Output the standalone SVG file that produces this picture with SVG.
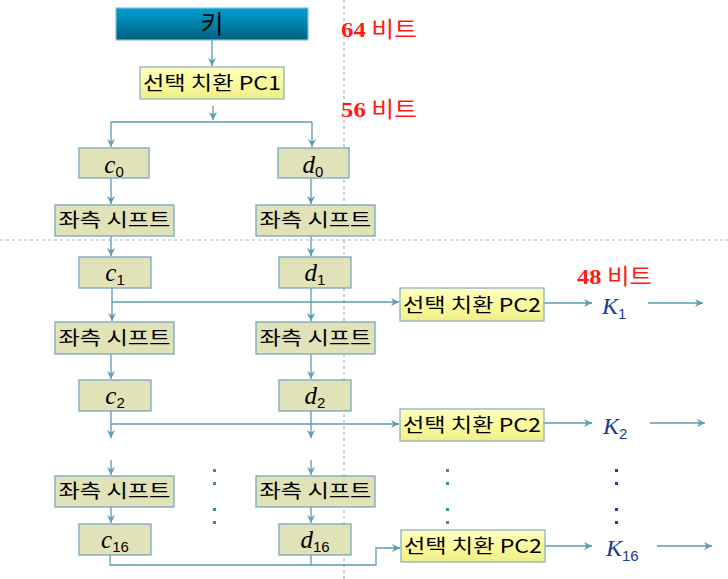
<svg xmlns="http://www.w3.org/2000/svg" width="728" height="579" viewBox="0 0 728 579">
<style>
.guide{stroke:#b0b0b0;stroke-width:1.2;stroke-dasharray:3,3;fill:none}
.con{stroke:#5b9bb7;stroke-width:1.3;fill:none}
.arr{marker-end:url(#ah)}
.box{fill:#e2e2b8;stroke:#7aa6bd;stroke-width:1.3}
.pc{fill:url(#yel);stroke:#8fb0c0;stroke-width:1.3}
.kr{font-family:"Noto Sans CJK KR","Noto Sans",sans-serif;fill:#000}
.var{font-family:"Liberation Serif",serif;font-style:italic;font-size:25px;fill:#000}
.sub{font-family:"Liberation Sans",sans-serif;font-style:normal;font-size:15px}
.kv{font-family:"Liberation Serif",serif;font-style:italic;font-size:24px;fill:#1f3a93}
.red{fill:#ff1a1a;font-size:22px}
.num{font-family:"Liberation Serif",serif;font-weight:bold}
.bit{font-family:"Noto Sans CJK KR",sans-serif;font-weight:normal}
.dot{fill:#3a8aa8}
.dotk{fill:#1f3a93}
</style>
<defs>
<linearGradient id="teal" x1="0" y1="0" x2="0" y2="1">
<stop offset="0" stop-color="#00a0d2"/>
<stop offset="1" stop-color="#005f80"/>
</linearGradient>
<linearGradient id="yel" x1="0" y1="0" x2="0" y2="1">
<stop offset="0" stop-color="#ffffc2"/>
<stop offset="0.5" stop-color="#fafa9c"/>
<stop offset="1" stop-color="#eeee88"/>
</linearGradient>
<marker id="ah" markerUnits="userSpaceOnUse" markerWidth="10" markerHeight="10" refX="8" refY="4" orient="auto">
<path d="M0,0 L8,4 L0,8 L2.5,4 z" fill="#5b9bb7"/>
</marker>
</defs>

<g id="guides">
<line class="guide" x1="0" y1="240" x2="728" y2="240"/>
<line class="guide" x1="344" y1="0" x2="344" y2="579"/>
</g>

<g id="connectors">
<path class="con arr" d="M212,40 V66"/>
<path class="con arr" d="M213,106 V120"/>
<path class="con" d="M111,122 H312"/>
<path class="con arr" d="M111,122 V147"/>
<path class="con arr" d="M312,122 V147"/>
<path class="con arr" d="M111,178 V204"/>
<path class="con arr" d="M311,178 V204"/>
<path class="con arr" d="M111,236 V256"/>
<path class="con arr" d="M311,236 V256"/>
<path class="con arr" d="M112,288 V321"/>
<path class="con arr" d="M112,302 H399"/>
<path class="con arr" d="M311,288 V321"/>
<path class="con arr" d="M111,354 V379"/>
<path class="con arr" d="M311,354 V379"/>
<path class="con arr" d="M111,411 V438"/>
<path class="con arr" d="M111,424 H399"/>
<path class="con arr" d="M311,411 V438"/>
<path class="con arr" d="M111,460 V475"/>
<path class="con arr" d="M311,460 V475"/>
<path class="con arr" d="M111,507 V523"/>
<path class="con arr" d="M311,507 V523"/>
<path class="con arr" d="M110,555 V565 H376 V548 H400"/>
<path class="con" d="M311,555 V565"/>
<path class="con arr" d="M544,303 H592"/>
<path class="con arr" d="M648,303 H703"/>
<path class="con arr" d="M544,423 H592"/>
<path class="con arr" d="M650,423 H705"/>
<path class="con arr" d="M545,546 H592"/>
<path class="con arr" d="M657,546 H712"/>
</g>

<g id="key">
<rect x="116" y="8" width="192" height="32" fill="url(#teal)" stroke="#7fc0dc" stroke-width="1.2"/>
<text class="kr" x="212" y="33" font-size="25" text-anchor="middle">키</text>
</g>

<g id="pc1">
<rect class="pc" x="140" y="67" width="144" height="32"/>
<text class="kr" x="212" y="90" font-size="19" text-anchor="middle" textLength="138" lengthAdjust="spacingAndGlyphs">선택 치환 PC1</text>
</g>

<g id="c0"><rect class="box" x="79" y="148" width="70" height="30"/><text class="var" x="114" y="173" text-anchor="middle">c<tspan class="sub" dy="4">0</tspan></text></g>
<g id="d0"><rect class="box" x="278" y="148" width="71" height="30"/><text class="var" x="313" y="173" text-anchor="middle">d<tspan class="sub" dy="4">0</tspan></text></g>

<g id="shiftL1"><rect class="box" x="55" y="205" width="119" height="31"/><text class="kr" x="114.5" y="227" font-size="19" text-anchor="middle" textLength="112" lengthAdjust="spacingAndGlyphs">좌측 시프트</text></g>
<g id="shiftR1"><rect class="box" x="256" y="205" width="119" height="31"/><text class="kr" x="315.5" y="227" font-size="19" text-anchor="middle" textLength="112" lengthAdjust="spacingAndGlyphs">좌측 시프트</text></g>

<g id="c1"><rect class="box" x="79" y="257" width="72" height="31"/><text class="var" x="115" y="281" text-anchor="middle">c<tspan class="sub" dy="4">1</tspan></text></g>
<g id="d1"><rect class="box" x="279" y="257" width="72" height="31"/><text class="var" x="315" y="281" text-anchor="middle">d<tspan class="sub" dy="4">1</tspan></text></g>

<g id="shiftL2"><rect class="box" x="55" y="322" width="119" height="32"/><text class="kr" x="114.5" y="345" font-size="19" text-anchor="middle" textLength="112" lengthAdjust="spacingAndGlyphs">좌측 시프트</text></g>
<g id="shiftR2"><rect class="box" x="256" y="322" width="119" height="32"/><text class="kr" x="315.5" y="345" font-size="19" text-anchor="middle" textLength="112" lengthAdjust="spacingAndGlyphs">좌측 시프트</text></g>

<g id="c2"><rect class="box" x="79" y="380" width="72" height="31"/><text class="var" x="115" y="404" text-anchor="middle">c<tspan class="sub" dy="4">2</tspan></text></g>
<g id="d2"><rect class="box" x="279" y="380" width="72" height="31"/><text class="var" x="315" y="404" text-anchor="middle">d<tspan class="sub" dy="4">2</tspan></text></g>

<g id="shiftL16"><rect class="box" x="55" y="476" width="119" height="31"/><text class="kr" x="114.5" y="498" font-size="19" text-anchor="middle" textLength="112" lengthAdjust="spacingAndGlyphs">좌측 시프트</text></g>
<g id="shiftR16"><rect class="box" x="256" y="476" width="119" height="31"/><text class="kr" x="315.5" y="498" font-size="19" text-anchor="middle" textLength="112" lengthAdjust="spacingAndGlyphs">좌측 시프트</text></g>

<g id="c16"><rect class="box" x="79" y="524" width="72" height="31"/><text class="var" x="115" y="548" text-anchor="middle">c<tspan class="sub" dy="4">16</tspan></text></g>
<g id="d16"><rect class="box" x="279" y="524" width="72" height="31"/><text class="var" x="315" y="548" text-anchor="middle">d<tspan class="sub" dy="4">16</tspan></text></g>

<g id="pc2a"><rect class="pc" x="400" y="288" width="144" height="33"/><text class="kr" x="472" y="312" font-size="19" text-anchor="middle" textLength="138" lengthAdjust="spacingAndGlyphs">선택 치환 PC2</text></g>
<g id="pc2b"><rect class="pc" x="400" y="409" width="144" height="32"/><text class="kr" x="472" y="432" font-size="19" text-anchor="middle" textLength="138" lengthAdjust="spacingAndGlyphs">선택 치환 PC2</text></g>
<g id="pc2c"><rect class="pc" x="401" y="530" width="144" height="32"/><text class="kr" x="473" y="553" font-size="19" text-anchor="middle" textLength="138" lengthAdjust="spacingAndGlyphs">선택 치환 PC2</text></g>

<g id="k1"><text class="kv" x="602" y="314">K<tspan class="sub" dy="5">1</tspan></text></g>
<g id="k2"><text class="kv" x="603" y="434">K<tspan class="sub" dy="5">2</tspan></text></g>
<g id="k16"><text class="kv" x="606" y="556">K<tspan class="sub" dy="5">16</tspan></text></g>

<g id="labels">
<text class="red" x="341" y="37" textLength="76" lengthAdjust="spacingAndGlyphs"><tspan class="num">64</tspan><tspan class="bit"> 비트</tspan></text>
<text class="red" x="341" y="117" textLength="76" lengthAdjust="spacingAndGlyphs"><tspan class="num">56</tspan><tspan class="bit"> 비트</tspan></text>
<text class="red" x="577" y="284" textLength="75" lengthAdjust="spacingAndGlyphs"><tspan class="num">48</tspan><tspan class="bit"> 비트</tspan></text>
</g>

<g id="dots">
<rect class="dot" x="213" y="469" width="3" height="3"/>
<rect class="dot" x="213" y="482" width="3" height="3"/>
<rect class="dot" x="213" y="508" width="3" height="3"/>
<rect class="dot" x="213" y="521" width="3" height="3"/>
<rect class="dot" x="446" y="469" width="3" height="3"/>
<rect class="dot" x="446" y="482" width="3" height="3"/>
<rect class="dot" x="446" y="508" width="3" height="3"/>
<rect class="dot" x="446" y="521" width="3" height="3"/>
<rect class="dotk" x="615" y="469" width="3" height="3"/>
<rect class="dotk" x="615" y="482" width="3" height="3"/>
<rect class="dotk" x="615" y="508" width="3" height="3"/>
<rect class="dotk" x="615" y="521" width="3" height="3"/>
</g>
</svg>
